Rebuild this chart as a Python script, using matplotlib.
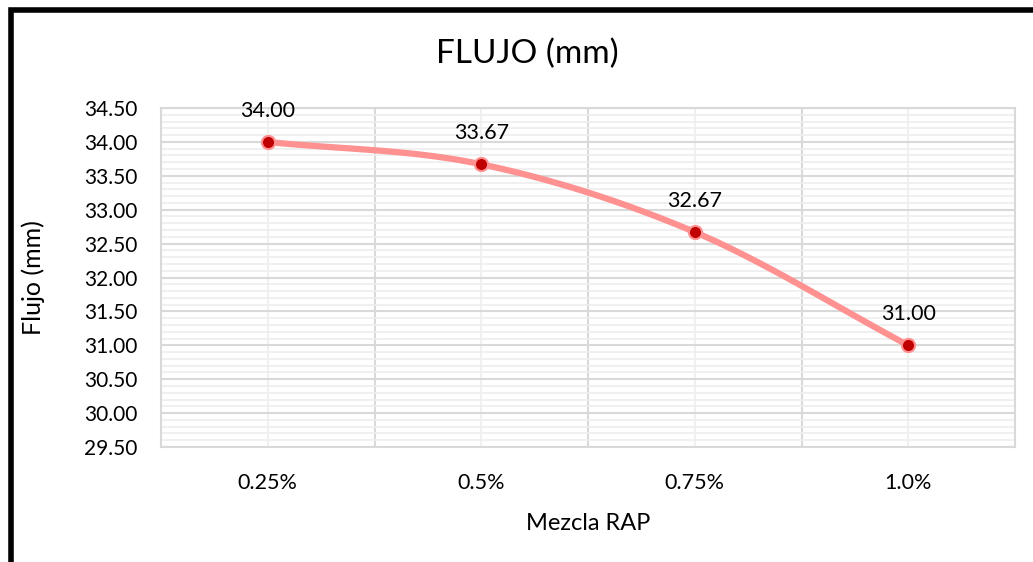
import numpy as np
import matplotlib.pyplot as plt
from matplotlib.patches import Rectangle

# mezcla RAP vs flujo
categorias = ['0.25%', '0.5%', '0.75%', '1.0%']
flujo = [34.00, 33.67, 32.67, 31.00]
etiquetas = ['34.00', '33.67', '32.67', '31.00']

plt.rcParams['font.family'] = ['Lato', 'DejaVu Sans']


def suavizar(x, y, n=40):
    # curva tipo Catmull-Rom para la linea suavizada
    x = np.asarray(x, float)
    y = np.asarray(y, float)
    px = np.concatenate([[2 * x[0] - x[1]], x, [2 * x[-1] - x[-2]]])
    py = np.concatenate([[2 * y[0] - y[1]], y, [2 * y[-1] - y[-2]]])
    xs, ys = [], []
    t = np.linspace(0, 1, n)
    for i in range(1, len(px) - 2):
        for p, out in ((px, xs), (py, ys)):
            p0, p1, p2, p3 = p[i - 1], p[i], p[i + 1], p[i + 2]
            out.extend(0.5 * (2 * p1 + (-p0 + p2) * t
                              + (2 * p0 - 5 * p1 + 4 * p2 - p3) * t ** 2
                              + (-p0 + 3 * p1 - 3 * p2 + p3) * t ** 3))
    return np.array(xs), np.array(ys)


fig = plt.figure(figsize=(10.33, 5.62), dpi=100)
ax = fig.add_axes([161 / 1033, 1 - 447 / 562, (1015 - 161) / 1033, (447 - 108) / 562])

x = np.arange(len(categorias))
xs, ys = suavizar(x, flujo)
ax.plot(xs, ys, color='#FF9191', linewidth=4.5, solid_capstyle='round', zorder=3)
ax.plot(x, flujo, linestyle='none', marker='o', markersize=9.5,
        markerfacecolor='#C00000', markeredgecolor='#FF9191', markeredgewidth=1.5, zorder=4)

for xi, yi, txt in zip(x, flujo, etiquetas):
    ax.annotate(txt, (xi, yi), xytext=(0, 15), textcoords='offset points',
                ha='center', va='bottom', fontsize=15.5, color='#000000')

ax.set_xlim(-0.5, len(categorias) - 0.5)
ax.set_ylim(29.5, 34.5)
ax.set_xticks(x)
ax.set_xticklabels(categorias)
ax.set_xticks(x[:-1] + 0.5, minor=True)
ax.set_yticks(np.arange(29.5, 34.51, 0.5))
ax.set_yticklabels([f'{v:.2f}' for v in np.arange(29.5, 34.51, 0.5)])
ax.set_yticks(np.arange(29.5, 34.51, 0.1), minor=True)

# rejilla principal y secundaria
ax.grid(True, axis='y', which='major', color='#D9D9D9', linewidth=1.5, zorder=0)
ax.grid(True, axis='y', which='minor', color='#EEEEEE', linewidth=1.2, zorder=0)
ax.grid(True, axis='x', which='minor', color='#D9D9D9', linewidth=1.5, zorder=0)
ax.grid(True, axis='x', which='major', color='#EEEEEE', linewidth=1.2, zorder=0)
ax.set_axisbelow(True)

for s in ax.spines.values():
    s.set_color('#D9D9D9')
    s.set_linewidth(1.5)
ax.tick_params(which='both', length=0)
ax.tick_params(axis='y', labelsize=15, pad=17)
ax.tick_params(axis='x', labelsize=15.5, pad=19)

ax.set_title('FLUJO (mm)', fontsize=24, x=(527 - 161) / 854, pad=32)
ax.set_xlabel('Mezcla RAP', fontsize=17, labelpad=14)
ax.set_ylabel('Flujo (mm)', fontsize=18, labelpad=10)
ax.yaxis.set_label_coords((45 - 161) / 854, 0.5)

# marco negro exterior
fig.patches.append(Rectangle((10.5 / 1033, -0.2), 1.2, 1 - 10 / 562 + 0.2,
                             transform=fig.transFigure, fill=False,
                             edgecolor='black', linewidth=4, zorder=10))

fig.savefig('out.png', dpi=100)
